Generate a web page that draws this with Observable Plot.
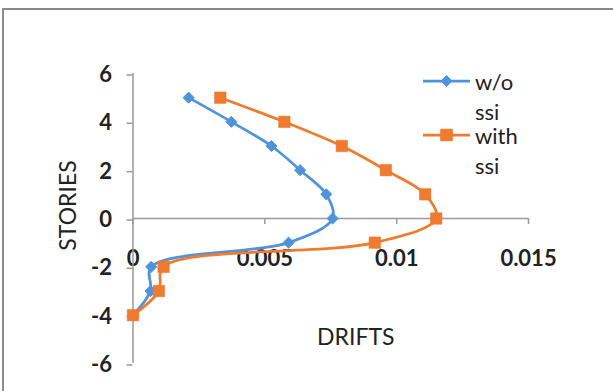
<!DOCTYPE html>
<html><head><meta charset="utf-8">
<script src="https://cdn.jsdelivr.net/npm/d3@7"></script>
<script src="https://cdn.jsdelivr.net/npm/@observablehq/plot@0.6"></script>
<style>
html,body{margin:0;padding:0;background:#fff;}
#wrap{position:relative;width:613px;height:391px;overflow:hidden;font-family:Lato, sans-serif;background:#fff;}
#border{position:absolute;left:2px;top:8px;width:700px;height:500px;border-left:2px solid #8a8a8a;border-top:2px solid #8a8a8a;}
#legend{position:absolute;left:423px;top:67px;font-size:22px;color:#222;line-height:30px;}
.item{display:flex;align-items:flex-start;}
.item + .item{margin-top:-6px;}
.sw{width:47px;height:30px;flex:none;display:block;}
.lbl{width:30px;margin-left:5px;}
</style></head><body><div id="wrap"><div id="border"></div></div>
<script>
const stories = [5, 4, 3, 2, 1, 0, -1, -2, -3, -4];
const driftsWithout = [0.00211, 0.00373, 0.00525, 0.00634, 0.00733, 0.00757, 0.0059, 0.00069, 0.00066, 0];
const driftsWith = [0.00331, 0.00574, 0.00792, 0.00959, 0.01108, 0.0115, 0.00917, 0.00116, 0.00098, 0];
const seriesNames = ["w/o ssi", "with ssi"];
const seriesColors = ["#4f94da", "#ee7b30"];
const xTicks = [0, 0.005, 0.01, 0.015];
const xTickLabels = ["0", "0.005", "0.01", "0.015"];
const yTicks = [-6, -4, -2, 0, 2, 4, 6];
const yTickLabels = ["-6", "-4", "-2", "0", "2", "4", "6"];
const xTitle = "DRIFTS";
const yTitle = "STORIES";

const seriesA = stories.map((s, i) => ({story: s, drift: driftsWithout[i]}));
const seriesB = stories.map((s, i) => ({story: s, drift: driftsWith[i]}));
const axisColor = "#9a9a9a";
const textColor = "#222";

const chart = Plot.plot({
  width: 613, height: 391,
  marginLeft: 132.5, marginRight: 85, marginTop: 73, marginBottom: 28,
  x: {domain: [0, 0.015], axis: null},
  y: {domain: [-6, 6], axis: null},
  style: {fontFamily: "Lato, sans-serif", background: "transparent", overflow: "visible"},
  marks: [
    Plot.text(xTicks, {x: d => d, y: 0, dy: 40, text: (d, i) => xTickLabels[i], fontSize: 22, fontWeight: "bold", fill: textColor}),
    Plot.axisY(yTicks, {anchor: "left", label: null, tickSize: 6, tickPadding: 15, tickFormat: d => yTickLabels[yTicks.indexOf(d)], fontSize: 22, fontWeight: "bold", fill: textColor, stroke: axisColor, strokeWidth: 1.5, dy: 1.5}),
    Plot.ruleX([0], {stroke: axisColor, strokeWidth: 1.5}),
    Plot.ruleY([0], {stroke: axisColor, strokeWidth: 1.5}),
    Plot.ruleX(xTicks, {x: d => d, y1: 0, y2: 0, insetBottom: -6, stroke: axisColor, strokeWidth: 1.5}),
    Plot.text([xTitle], {frameAnchor: "bottom", dx: 25, dy: -19, fontSize: 23, fill: textColor}),
    Plot.text([yTitle], {frameAnchor: "left", textAnchor: "middle", rotate: -90, dx: -64, dy: -13, fontSize: 23, fill: textColor}),
    Plot.line(seriesA, {x: "drift", y: "story", stroke: seriesColors[0], strokeWidth: 2.75, curve: "catmull-rom"}),
    Plot.line(seriesB, {x: "drift", y: "story", stroke: seriesColors[1], strokeWidth: 2.75, curve: "catmull-rom"}),
    Plot.dot(seriesA, {x: "drift", y: "story", symbol: "diamond2", r: 5, fill: seriesColors[0], stroke: seriesColors[0], strokeWidth: 1}),
    Plot.dot(seriesB, {x: "drift", y: "story", symbol: "square", r: 6.5, fill: seriesColors[1], stroke: seriesColors[1], strokeWidth: 0.5})
  ]
});
chart.style.position = "absolute";
chart.style.left = "0px";
chart.style.top = "0px";
const wrap = document.getElementById("wrap");
wrap.appendChild(chart);

// legend
const legend = d3.select(wrap).append("div").attr("id", "legend");
seriesNames.forEach((name, k) => {
  const item = legend.append("div").attr("class", "item");
  const sw = item.append("svg").attr("class", "sw").attr("width", 47).attr("height", 30);
  sw.append("line").attr("x1", 0).attr("x2", 47).attr("y1", 14).attr("y2", 14)
    .attr("stroke", seriesColors[k]).attr("stroke-width", 2.75);
  const sym = k === 0 ? d3.symbolDiamond2 : d3.symbolSquare;
  const size = k === 0 ? Math.PI * 5 * 5 : Math.PI * 6.5 * 6.5;
  sw.append("path").attr("transform", "translate(23.5,14)")
    .attr("d", d3.symbol(sym, size)()).attr("fill", seriesColors[k]).attr("stroke", seriesColors[k]);
  item.append("div").attr("class", "lbl").text(name);
});
</script></body></html>
